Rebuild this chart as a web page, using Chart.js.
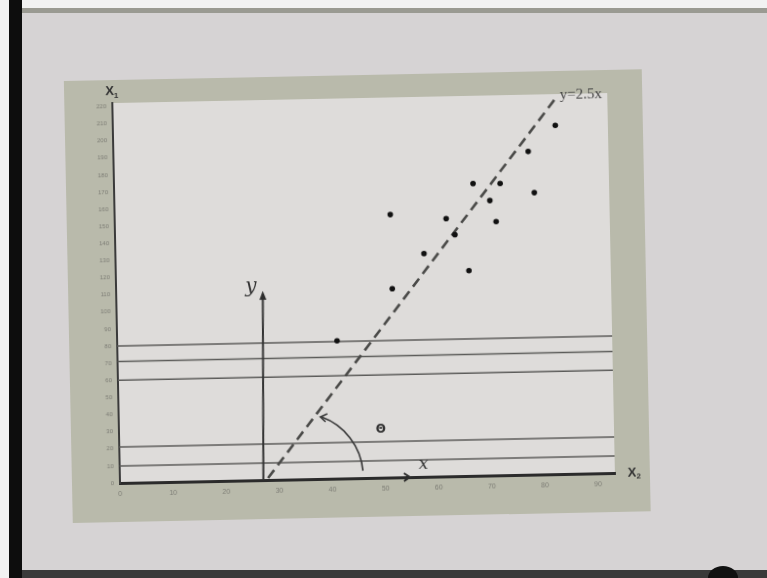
<!DOCTYPE html>
<html><head><meta charset="utf-8">
<script src="https://cdn.jsdelivr.net/npm/chart.js@4.4.1/dist/chart.umd.min.js"></script>
<style>
html,body{margin:0;padding:0;width:767px;height:578px;overflow:hidden;background:#f2f2f2;}
#slide{position:absolute;left:22px;top:13px;width:745px;height:557px;background:#d6d3d4;}
#leftbar{position:absolute;left:9px;top:0;width:13px;height:578px;background:#0d0d0d;}
#topbar{position:absolute;left:22px;top:8px;width:745px;height:5px;background:#9a9a92;}
#bottombar{position:absolute;left:22px;top:570px;width:745px;height:8px;background:#3a3a3a;}
#blob{position:absolute;left:708px;top:566px;width:30px;height:24px;border-radius:50%;background:#111;}
#rot{position:absolute;left:0;top:0;width:767px;height:578px;transform:rotate(-1.16deg);transform-origin:120px 483px;}
#frame{position:absolute;left:72px;top:80px;width:578px;height:442px;background:#b9baab;}
canvas{position:absolute;left:0;top:0;}
</style></head>
<body>
<div id="slide"></div><div id="leftbar"></div><div id="topbar"></div><div id="bottombar"></div><div id="blob"></div>
<div id="rot"><div id="frame"></div><canvas id="c" width="767" height="578"></canvas></div>
<script>
// ---- data ----
const xTickValues = [0,10,20,30,40,50,60,70,80,90];
const yTickValues = [0,10,20,30,40,50,60,70,80,90,100,110,120,130,140,150,160,170,180,190,200,210,220];
const pointX = [83.3, 78.1, 67.6, 72.7, 79.1, 70.7, 51.9, 62.4, 71.8, 64.0, 58.1, 66.5, 52.0, 41.4];
const pointY = [203.7, 188.8, 170.7, 170.4, 164.7, 160.6, 153.6, 150.6, 148.2, 141.1, 130.4, 119.9, 110.3, 80.5];
const fitLineX = [27.9, 83.7];
const fitLineY = [1.2, 220.5];
const fitLineLabel = "y=2.5x";
const levelValues = [10, 21, 60, 71, 80];
const levelSpanX = [0, 93.2];
const rotYAxisX = [27.0, 27.6];
const rotYAxisY = [0, 107];
const axisTitleY = "X";
const axisTitleYSub = "1";
const axisTitleX = "X";
const axisTitleXSub = "2";

// annotation anchors (data units)
const notes = {
  yLetter: {x: 25.4, y: 113},
  xLetter: {x: 57.2, y: 7},
  xArrow: {x: 54.6, y: 0},
  theta: {x: 49.3, y: 28},
  arcCenter: {x: 33.9, y: 1.75},
  arcRadiusX: 11.9,
  x1Title: {x: 0, y: 228.7},
  x2Title: {x: 95.6, y: 0}
};

const pts = pointX.map((x,i)=>({x, y: pointY[i]}));
const datasets = [
  {data: pts, pointRadius: 2.8, pointBackgroundColor: '#111', pointBorderWidth: 0, showLine: false, order: 0}
];
levelValues.forEach(v => datasets.push({
  data: levelSpanX.map(x => ({x, y: v})), showLine: true, borderColor: '#5c5c5a', borderWidth: 1.5, pointRadius: 0, order: 3
}));
datasets.push({
  data: fitLineX.map((x,i)=>({x, y: fitLineY[i]})), showLine: true, borderColor: '#4a4a48', borderWidth: 2.6,
  borderDash: [10,6], pointRadius: 0, clip: false, order: 2
});
datasets.push({
  data: rotYAxisX.map((x,i)=>({x, y: rotYAxisY[i]})), showLine: true, borderColor: '#333', borderWidth: 2,
  pointRadius: 0, order: 2
});

const deco = {
  id: 'deco',
  beforeDraw(chart) {
    const {ctx, chartArea: a} = chart;
    ctx.save();
    ctx.fillStyle = '#dedcda';
    ctx.fillRect(a.left, a.top, a.right - a.left, a.bottom - a.top);
    ctx.restore();
  },
  afterDatasetsDraw(chart) {
    const {ctx, scales: {x, y}} = chart;
    const px = v => x.getPixelForValue(v), py = v => y.getPixelForValue(v);
    ctx.save();
    ctx.fillStyle = '#2e2e2e'; ctx.strokeStyle = '#2e2e2e';
    // arrowhead on rotated y axis
    const tx = px(rotYAxisX[1]), ty = py(rotYAxisY[1]);
    ctx.beginPath(); ctx.moveTo(tx, ty - 6); ctx.lineTo(tx - 3.5, ty + 3); ctx.lineTo(tx + 3.5, ty + 3); ctx.closePath(); ctx.fill();
    // arrowhead on x axis
    const ax = px(notes.xArrow.x), ay = py(notes.xArrow.y);
    ctx.lineWidth = 2;
    ctx.beginPath(); ctx.moveTo(ax - 6, ay - 4); ctx.lineTo(ax, ay); ctx.lineTo(ax - 6, ay + 4); ctx.stroke();
    // angle arc
    const cx = px(notes.arcCenter.x), cy = py(notes.arcCenter.y);
    const r = px(notes.arcCenter.x + notes.arcRadiusX) - cx;
    const a0 = -69 * Math.PI / 180, a1 = -4 * Math.PI / 180;
    ctx.lineWidth = 1.6; ctx.strokeStyle = '#3a3a3a';
    ctx.beginPath(); ctx.arc(cx, cy, r, a0, a1); ctx.stroke();
    const sx = cx + r * Math.cos(a0), sy = cy + r * Math.sin(a0);
    ctx.beginPath(); ctx.moveTo(sx + 6, sy - 3); ctx.lineTo(sx - 1, sy); ctx.lineTo(sx + 4, sy + 5); ctx.stroke();
    // letters
    ctx.fillStyle = '#333';
    ctx.textAlign = 'center'; ctx.textBaseline = 'middle';
    ctx.font = 'italic 20px "DejaVu Serif"';
    ctx.fillText('y', px(notes.yLetter.x), py(notes.yLetter.y));
    ctx.font = 'italic 17px "DejaVu Serif"';
    ctx.fillText('x', px(notes.xLetter.x), py(notes.xLetter.y));
    ctx.font = 'bold 12px "DejaVu Sans"';
    ctx.fillText('\u0398', px(notes.theta.x), py(notes.theta.y));
    // line label
    ctx.textAlign = 'left';
    ctx.fillStyle = '#444';
    ctx.font = '15px "Liberation Serif"';
    ctx.fillText(fitLineLabel, px(fitLineX[1]) + 3, py(fitLineY[1]) - 2);
    // axis titles
    const title = (main, sub, p, align) => {
      ctx.font = 'bold 13px "Liberation Sans"';
      ctx.textAlign = 'left';
      const w = ctx.measureText(main).width;
      let lx = px(p.x);
      if (align === 'center') lx -= (w + 5) / 2;
      const ly = py(p.y);
      ctx.fillStyle = '#333';
      ctx.fillText(main, lx, ly);
      ctx.font = 'bold 8px "Liberation Sans"';
      ctx.fillText(sub, lx + w, ly + 4);
    };
    title(axisTitleY, axisTitleYSub, notes.x1Title, 'center');
    title(axisTitleX, axisTitleXSub, notes.x2Title, 'left');
    ctx.restore();
  }
};

new Chart(document.getElementById('c'), {
  type: 'scatter',
  data: {datasets},
  plugins: [deco],
  options: {
    responsive: false, animation: false, devicePixelRatio: 1,
    layout: {padding: {left: 0, top: 103, right: 152, bottom: 65}},
    plugins: {legend: {display: false}, tooltip: {enabled: false}},
    scales: {
      x: {
        type: 'linear', min: 0, max: 93.2,
        afterFit: s => { s.height = 30; },
        afterBuildTicks: s => { s.ticks = xTickValues.map(v => ({value: v})); },
        grid: {display: false, drawTicks: false},
        border: {display: true, color: '#2b2b2b', width: 3},
        ticks: {includeBounds: false, padding: 7, color: '#7c7c74', font: {size: 7, family: 'Liberation Sans'}, maxRotation: 0, autoSkip: false}
      },
      y: {
        type: 'linear', min: 0, max: 222,
        afterFit: s => { s.width = 120; },
        afterBuildTicks: s => { s.ticks = yTickValues.map(v => ({value: v})); },
        grid: {display: false, drawTicks: false},
        border: {display: true, color: '#3a3a3a', width: 2},
        ticks: {includeBounds: false, padding: 6, color: '#7c7c74', font: {size: 6, family: 'Liberation Sans'}, autoSkip: false}
      }
    }
  }
});
</script>
</body></html>
